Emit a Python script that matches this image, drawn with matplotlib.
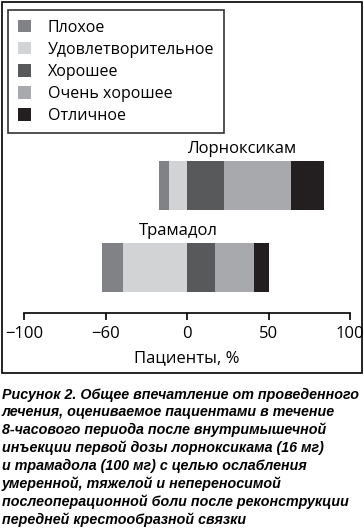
import matplotlib
matplotlib.use("Agg")
import matplotlib.pyplot as plt
from matplotlib.patches import Rectangle

# data (percent of patients)
categories = ["Плохое", "Удовлетворительное", "Хорошее", "Очень хорошее", "Отличное"]
colors = ["#808285", "#d1d3d4", "#58595b", "#a7a9ac", "#231f20"]
drugs = ["Лорноксикам", "Трамадол"]
# negative side: Плохое + Удовлетворительное, positive side: the rest
lornoxicam = [6, 11, 23, 41, 20]
tramadol = [13, 39, 17, 24, 9]
tick_pos = [-100, -50, 0, 50, 100]
tick_labels = ["\u2212100", "\u221260", "0", "50", "100"]  # as printed in the source
caption = ("Рисунок 2. Общее впечатление от проведенного\n"
           "лечения, оцениваемое пациентами в течение\n"
           "8-часового периода после внутримышечной\n"
           "инъекции первой дозы лорноксикама (16 мг)\n"
           "и трамадола (100 мг) с целью ослабления\n"
           "умеренной, тяжелой и непереносимой\n"
           "послеоперационной боли после реконструкции\n"
           "передней крестообразной связки")

W, H = 364, 529
plt.rcParams["font.family"] = ["Open Sans", "DejaVu Sans"]

fig = plt.figure(figsize=(W / 100, H / 100), dpi=100)

def fx(px):
    return px / W

def fy(py):
    return 1 - py / H

# outer frame
fig.patches.append(Rectangle((fx(2), fy(373)), fx(360), (373 - 2) / H,
                             transform=fig.transFigure, fill=False,
                             edgecolor="black", linewidth=1.2))

ax = fig.add_axes([fx(24), fy(313), fx(326), (313 - 130) / H])

rows = {1: lornoxicam, 0: tramadol}
handles = []
for y, vals in rows.items():
    left = -(vals[0] + vals[1])
    for i, v in enumerate(vals):
        b = ax.barh(y, v, left=left, height=0.6, color=colors[i],
                    edgecolor="none", label=categories[i])
        if y == 1:
            handles.append(b)
        left += v

ax.text(33.7, 1.44, drugs[0], ha="center", va="center", fontsize=12)
ax.text(-5, 0.45, drugs[1], ha="center", va="center", fontsize=12)

ax.set_xlim(-100, 100)
ax.set_ylim(-0.555, 1.677)
ax.set_xticks(tick_pos)
ax.set_xticklabels(tick_labels, fontsize=12)
ax.set_yticks([])
for s in ["left", "right", "top"]:
    ax.spines[s].set_visible(False)
ax.spines["bottom"].set_linewidth(1.2)
ax.tick_params(axis="x", direction="out", length=5, width=1.2, pad=4)
ax.set_xlabel("Пациенты, %", fontsize=12, labelpad=6)

leg = fig.legend(handles, categories, loc="upper left",
                 bbox_to_anchor=(fx(8), fy(10)), fontsize=11.5,
                 frameon=True, fancybox=False, edgecolor="black",
                 handlelength=0.85, handleheight=0.85, handletextpad=1.05,
                 labelspacing=0.38, borderpad=0.6, borderaxespad=0)
leg.get_frame().set_linewidth(1.2)

fig.text(fx(2), fy(388), caption, ha="left", va="top", fontsize=10.3,
         family="Liberation Sans", weight="bold", style="italic",
         linespacing=1.3)

fig.savefig("out.png", dpi=100)
